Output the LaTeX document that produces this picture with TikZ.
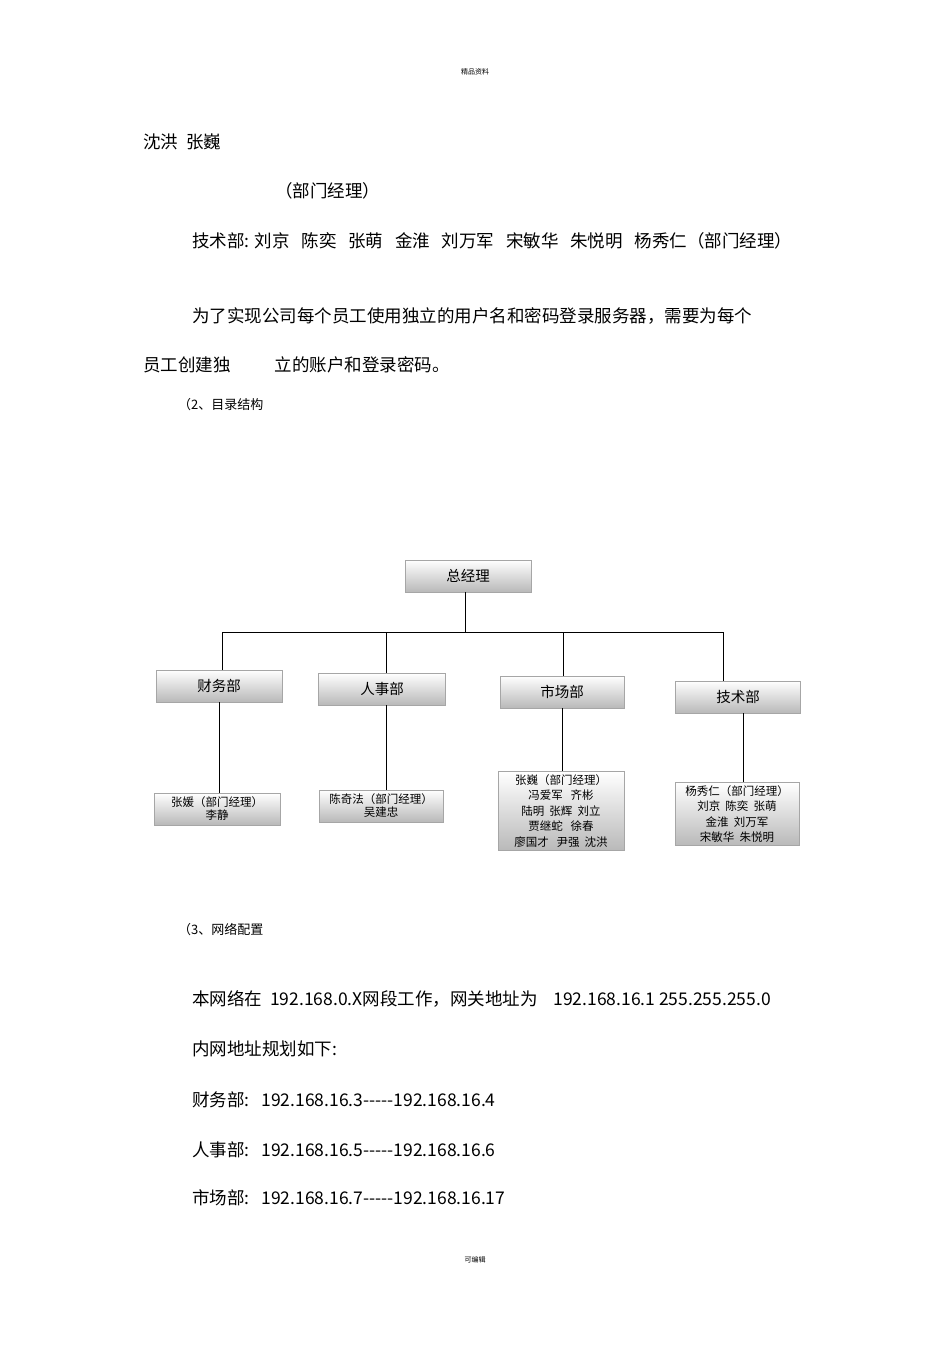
\documentclass[tikz,border=0pt]{standalone}
\usepackage{fontspec}
\setmainfont{Liberation Sans}
\newfontfamily\cjk{Noto Sans CJK SC}
\begin{document}
\begin{tikzpicture}[x=1pt,y=-1pt,
  every node/.style={font=\cjk, inner sep=0pt},
  txt/.style={anchor=west, font=\cjk\fontsize{17.5}{20}\selectfont},
  bx/.style={draw=gray!70, top color=white, bottom color=gray!55, minimum height=32pt, line width=0.8pt, font=\cjk\fontsize{14.5}{16}\selectfont},
  sbx/.style={bx, align=center, font=\cjk\fontsize{11.5}{13}\selectfont},
  ln/.style={line width=0.8pt}]
\useasboundingbox (0,0) rectangle (950,1345);
\node[font=\cjk\fontsize{7}{8}\selectfont] (h) at (475,72) {精品资料};
\node[txt] (t1) at (143,142) {沈洪\ \ 张巍};
\node[txt] (t2) at (275,191) {（部门经理）};
\node[txt] (t3) at (192,241) {技术部: 刘京\ \ \ 陈奕\ \ \ 张萌\ \ \ 金淮\ \ \ 刘万军\ \ \ 宋敏华\ \ \ 朱悦明\ \ \ 杨秀仁（部门经理）};
\node[txt] (t4) at (192,316) {为了实现公司每个员工使用独立的用户名和密码登录服务器，需要为每个};
\node[txt] (t5) at (143,365) {员工创建独\hspace{44pt}立的账户和登录密码。};
\node[txt, font=\cjk\fontsize{13}{15}\selectfont] (t6) at (178,405) {（2、目录结构};

\node[bx, minimum width=126pt] (g) at (468,576) {总经理};
\node[bx, minimum width=126pt] (d1) at (219,686) {财务部};
\node[bx, minimum width=127pt] (d2) at (382,689) {人事部};
\node[bx, minimum width=124pt] (d3) at (562,692) {市场部};
\node[bx, minimum width=125pt] (d4) at (738,697) {技术部};
\node[sbx, minimum width=126pt] (s1) at (217,809) {张媛（部门经理）\\李静};
\node[sbx, minimum width=124pt] (s2) at (381,806) {陈奇法（部门经理）\\吴建忠};
\node[sbx, minimum width=126pt, minimum height=79pt, font=\cjk\fontsize{11.5}{15.5}\selectfont] (s3) at (561,811) {张巍（部门经理）\\冯爱军\ \ \ 齐彬\\陆明\ \ 张辉\ \ 刘立\\贾继蛇\ \ \ 徐春\\廖国才\ \ \ 尹强\ \ 沈洪};
\node[sbx, minimum width=124pt, minimum height=63pt, font=\cjk\fontsize{11.5}{15.5}\selectfont] (s4) at (737,814) {杨秀仁（部门经理）\\刘京\ \ 陈奕\ \ 张萌\\金淮\ \ 刘万军\\宋敏华\ \ 朱悦明};

\coordinate (bar) at (465,632);
\draw[ln] (g.south -| bar) -- (bar);
\draw[ln] (222,632) coordinate (bl) -- (723,632) coordinate (br);
\draw[ln] (bl) -- (d1.north -| bl);
\draw[ln] (386,632) -- (d2.north -| 386,0);
\draw[ln] (563,632) -- (d3.north -| 563,0);
\draw[ln] (br) -- (d4.north -| br);
\draw[ln] (d1.south -| 219,0) -- (s1.north -| 219,0);
\draw[ln] (d2.south -| 386,0) -- (s2.north -| 386,0);
\draw[ln] (d3.south -| 562,0) -- (s3.north -| 562,0);
\draw[ln] (d4.south -| 743,0) -- (s4.north -| 743,0);

\node[txt, font=\cjk\fontsize{13}{15}\selectfont] (t7) at (178,930) {（3、网络配置};
\node[txt] (t8) at (192,999) {本网络在\ \ 192.168.0.X网段工作，网关地址为\ \ \ \ 192.168.16.1 255.255.255.0};
\node[txt] (t9) at (192,1049) {内网地址规划如下:};
\node[txt] (t10) at (192,1100) {财务部:\ \ \ 192.168.16.3-----192.168.16.4};
\node[txt] (t11) at (192,1150) {人事部:\ \ \ 192.168.16.5-----192.168.16.6};
\node[txt] (t12) at (192,1198) {市场部:\ \ \ 192.168.16.7-----192.168.16.17};
\node[font=\cjk\fontsize{7}{8}\selectfont] (f) at (475,1260) {可编辑};
\end{tikzpicture}
\end{document}
